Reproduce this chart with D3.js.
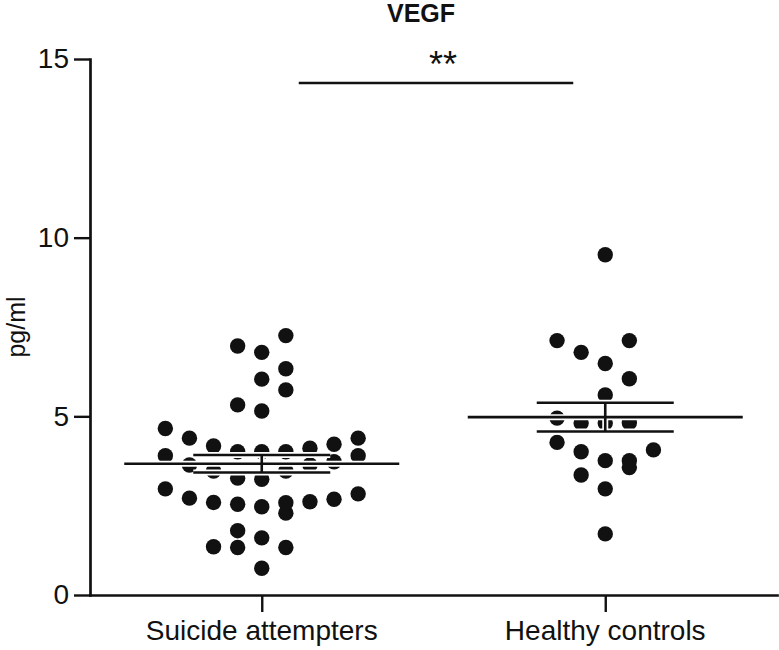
<!DOCTYPE html>
<html>
<head>
<meta charset="utf-8">
<script src="https://cdn.jsdelivr.net/npm/d3@7"></script>
<style>
  html, body { margin: 0; padding: 0; background: #fff; }
  svg { display: block; }
  text { font-family: "Liberation Sans", Arial, sans-serif; fill: #111; }
</style>
</head>
<body>
<svg id="chart" width="779" height="650"></svg>
<script>
// ---------------- data ----------------
const title = "VEGF";
const yLabel = "pg/ml";
const categories = ["Suicide attempters", "Healthy controls"];
const yTicks = [0, 5, 10, 15];
const significance = "**";

// individual observations (pg/ml)
const suicideAttempters = [
  0.75, 1.33, 1.33, 1.35,
  1.60, 2.29, 1.80,
  2.47, 2.58, 2.54, 2.59, 2.61, 2.68, 2.71, 2.97, 2.83,
  3.24, 3.47, 3.27, 3.47, 3.64, 3.73, 3.64, 3.90, 3.90,
  4.01, 4.01, 4.01, 4.17, 4.11, 4.22, 4.39, 4.66, 4.39,
  5.15, 5.74, 5.32,
  6.04, 6.33,
  6.79, 7.26, 6.97
];
const healthyControls = [
  1.71,
  2.97, 3.57, 3.36,
  3.76, 3.76, 4.01, 4.27, 4.06,
  4.81, 4.82, 4.81, 4.95,
  5.60, 6.05,
  6.48, 7.12, 6.79, 7.12,
  9.52
];
const groups = [suicideAttempters, healthyControls];

// ---------------- layout ----------------
const svg = d3.select("#chart");
const plot = { left: 90, right: 777, top: 59, bottom: 595 };
const ink = "#111";

const x = d3.scalePoint().domain(categories).range([plot.left, plot.right]).padding(0.5);
const y = d3.scaleLinear().domain([0, 15]).range([plot.bottom, plot.top]);

const dotR = 7.7;
const colStep = 24.1;
const bandPx = 25.7;
const slotOrder = [0, 1, -1, -2, 2, 3, -3, -4, 4, 5, -5, -6, 6];

// Prism-like column scatter: band values vertically, spread each band centre-out
function scatterLayout(values, cx) {
  const idx = d3.range(values.length).sort((a, b) => values[a] - values[b] || a - b);
  const bands = [];
  let cur = null;
  for (const i of idx) {
    if (!cur || y(values[cur.start]) - y(values[i]) >= bandPx) {
      cur = { start: i, members: [] };
      bands.push(cur);
    }
    cur.members.push(i);
  }
  const pts = [];
  bands.forEach(b => {
    b.members.sort((a, c) => a - c).forEach((i, k) => {
      pts.push({ v: values[i], cx: cx + slotOrder[k] * colStep, cy: y(values[i]) });
    });
  });
  return pts;
}

// ---------------- axes ----------------
const yAxis = svg.append("g")
  .attr("transform", `translate(${plot.left},0)`)
  .call(d3.axisLeft(y).tickValues(yTicks).tickSize(16).tickSizeOuter(0).tickPadding(5));
const xAxis = svg.append("g")
  .attr("transform", `translate(0,${plot.bottom})`)
  .call(d3.axisBottom(x).tickSize(17).tickSizeOuter(0).tickFormat(""));

[yAxis, xAxis].forEach(g => {
  g.select(".domain").attr("stroke", ink).attr("stroke-width", 2.7).attr("stroke-linecap", "square");
  g.selectAll(".tick line").attr("stroke", ink).attr("stroke-width", 2.4);
});
yAxis.selectAll(".tick text")
  .attr("font-size", 28).attr("fill", ink)
  .style("font-family", '"Liberation Sans", Arial, sans-serif');

// category labels
svg.append("g").selectAll("text").data(categories).join("text")
  .attr("x", d => x(d))
  .attr("y", 640)
  .attr("text-anchor", "middle")
  .attr("font-size", 28)
  .text(d => d);

// y label
svg.append("text")
  .attr("transform", "translate(25,327) rotate(-90)")
  .attr("text-anchor", "middle")
  .attr("font-size", 25)
  .text(yLabel);

// title
svg.append("text")
  .attr("x", 421).attr("y", 22)
  .attr("text-anchor", "middle")
  .attr("font-size", 25)
  .attr("font-weight", "bold")
  .text(title);

// ---------------- dots ----------------
groups.forEach((vals, gi) => {
  const pts = scatterLayout(vals, x(categories[gi]));
  svg.append("g").selectAll("circle").data(pts).join("circle")
    .attr("cx", d => d.cx).attr("cy", d => d.cy).attr("r", dotR)
    .attr("fill", ink);
});

// ---------------- mean ± SEM ----------------
const meanHalf = 137.5, semHalf = 68.5;
groups.forEach((vals, gi) => {
  const cx = x(categories[gi]);
  const m = d3.mean(vals);
  const sem = d3.deviation(vals) / Math.sqrt(vals.length);
  const g = svg.append("g");
  const segs = [
    [cx - meanHalf, y(m), cx + meanHalf, y(m)],
    [cx - semHalf, y(m + sem), cx + semHalf, y(m + sem)],
    [cx - semHalf, y(m - sem), cx + semHalf, y(m - sem)],
    [cx, y(m + sem), cx, y(m - sem)]
  ];
  // white halo then black line
  g.selectAll("line.halo").data(segs).join("line").attr("class", "halo")
    .attr("x1", d => d[0]).attr("y1", d => d[1]).attr("x2", d => d[2]).attr("y2", d => d[3])
    .attr("stroke", "#fff").attr("stroke-width", 6);
  g.selectAll("line.bar").data(segs).join("line").attr("class", "bar")
    .attr("x1", d => d[0]).attr("y1", d => d[1]).attr("x2", d => d[2]).attr("y2", d => d[3])
    .attr("stroke", ink).attr("stroke-width", 2.6);
});

// ---------------- significance ----------------
svg.append("line")
  .attr("x1", x(categories[0]) + 37).attr("x2", x(categories[1]) - 32)
  .attr("y1", 83).attr("y2", 83)
  .attr("stroke", ink).attr("stroke-width", 2.6);
svg.append("text")
  .attr("x", 443).attr("y", 77)
  .attr("text-anchor", "middle")
  .attr("font-size", 36)
  .text(significance);
</script>
</body>
</html>
